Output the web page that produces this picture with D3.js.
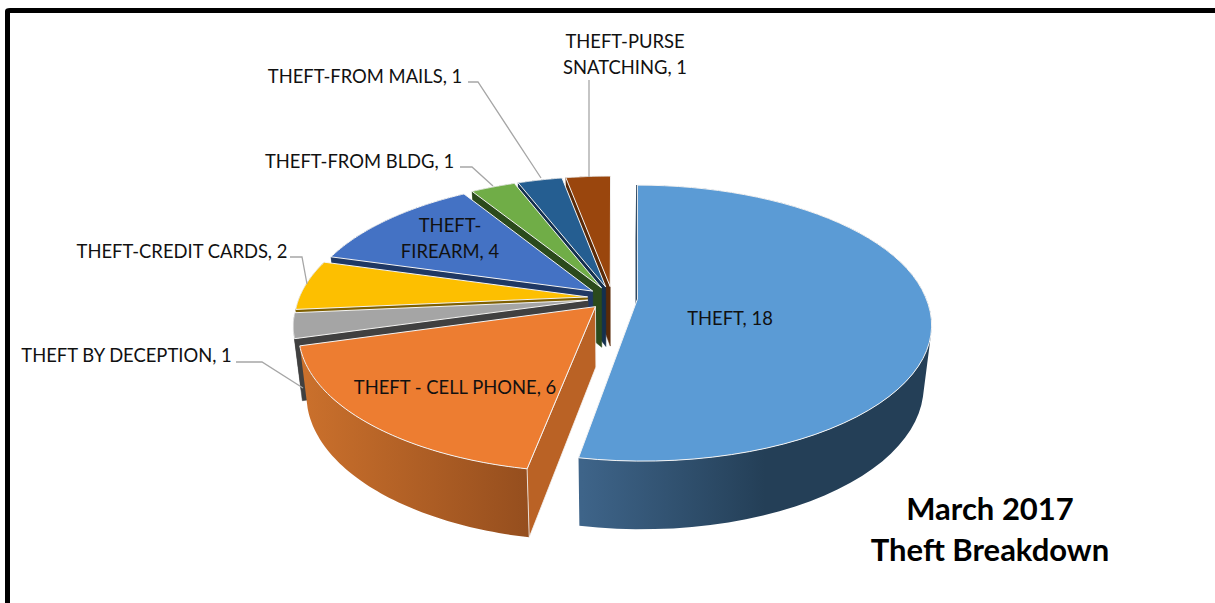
<!DOCTYPE html>
<html>
<head>
<meta charset="utf-8">
<script src="https://cdnjs.cloudflare.com/ajax/libs/d3/7.8.5/d3.min.js"></script>
<style>
  html, body { margin: 0; padding: 0; background: #fff; overflow: hidden; }
  text { font-family: Lato, "Open Sans", sans-serif; fill: #111; }
</style>
</head>
<body>
<svg id="chart" width="1215" height="603"></svg>
<script>
// chart data
var categories = ['THEFT', 'THEFT - CELL PHONE', 'THEFT BY DECEPTION', 'THEFT-CREDIT CARDS',
                  'THEFT-FIREARM', 'THEFT-FROM BLDG', 'THEFT-FROM MAILS', 'THEFT-PURSE SNATCHING'];
var values = [18, 6, 1, 2, 4, 1, 1, 1];
var topColors = ['#5b9bd5', '#ed7d31', '#a5a5a5', '#fdbf00', '#4472c4', '#70ad47', '#255e91', '#9a460d'];
var wallColors = ['#1f3a55', '#ba6225', '#404040', '#7f6000', '#1f3864', '#2b4a1c', '#14304f', '#5a2a08'];
var titleLines = ['March 2017', 'Theft Breakdown'];

// label placement, in the same order as categories
var labelLines = [['THEFT, 18'], ['THEFT - CELL PHONE, 6'], ['THEFT BY DECEPTION, 1'], ['THEFT-CREDIT CARDS, 2'],
                  ['THEFT-', 'FIREARM, 4'], ['THEFT-FROM BLDG, 1'], ['THEFT-FROM MAILS, 1'], ['THEFT-PURSE', 'SNATCHING, 1']];
var labelPos = [[730, 325], [455, 394], [126.5, 362], [182, 258], [450, 232], [359.5, 168], [365, 83], [625, 48]];
var leaders = [null, null,
  [[236, 362], [262, 362], [303, 388]],
  [[290, 257], [302, 257], [307, 284]],
  null,
  [[460, 167], [472, 167], [493, 186]],
  [[468, 82], [478, 82], [541, 178]],
  [[589, 80], [589, 177]]];

var width = 1215, height = 603;
var center = {x: 612.5, y: 298},
    explode = 25,
    radius = 288.5, squash = 0.4625, persp = 0.174,
    depth = 60, bottomX = 0.975, bottomY = 1.05,
    fontSize = 18.4;

var svg = d3.select('#chart');

var defs = svg.append('defs');
function sideGradient(id, x1, x2, from, to) {
  var g = defs.append('linearGradient').attr('id', id)
    .attr('gradientUnits', 'userSpaceOnUse')
    .attr('x1', x1).attr('x2', x2).attr('y1', 0).attr('y2', 0);
  g.append('stop').attr('offset', 0).attr('stop-color', from);
  g.append('stop').attr('offset', 1).attr('stop-color', to);
}
sideGradient('rim0', 582, 765, '#3e6489', '#243f57');
sideGradient('rim1', 305, 530, '#ca702c', '#954e1e');

// frame, only the top and left edges are in the picture
svg.append('path')
  .attr('d', 'M7.5,' + height + 'V11Q7.5,10.5 10,10.5H' + width)
  .attr('fill', 'none').attr('stroke', '#000').attr('stroke-width', 5);

// slice offset + rim offset on the ground plane (z goes away from the viewer) to screen
function project(ex, ez, rx, rz) {
  var gz = ez + rz;
  var s = 1 / (1 + persp * gz / radius);
  // a slice pulled to the right keeps its straight back edge
  var ek = ex > 0 ? Math.max(1, s) : s;
  return [center.x + ex * ek + rx * s, center.y - squash * gz * s];
}
function lower(p) {
  return [center.x + (p[0] - center.x) * bottomX,
          center.y + depth + (p[1] - center.y) * bottomY];
}

var slices = d3.pie().sort(null)(values);
slices.forEach(function(d, i) {
  var mid = (d.startAngle + d.endAngle) / 2;
  d.ex = explode * Math.sin(mid);
  d.ez = explode * Math.cos(mid);
  d.name = categories[i];
});

function tipPoint(d) { return project(d.ex, d.ez, 0, 0); }
function topPoint(d, a) {
  return project(d.ex, d.ez, radius * Math.sin(a), radius * Math.cos(a));
}
function arcAngles(d) {
  return d3.range(0, 61).map(function(k) {
    return d.startAngle + (d.endAngle - d.startAngle) * k / 60;
  });
}

var line = d3.line();

// back to front: last slices first, the big one on top
var order = d3.range(1, values.length).reverse().concat([0]);

order.forEach(function(i) {
  var d = slices[i];
  var g = svg.append('g').attr('class', 'slice');
  var angles = arcAngles(d);
  var wall = wallColors[i];
  var tip = tipPoint(d);

  // outer wall, swept in small quads inside one path so the silhouette is right.
  // all quads wound the same way or the overlaps cancel out
  var sweep = d3.pairs(angles).map(function(p) {
    var a = topPoint(d, p[0]), b = topPoint(d, p[1]);
    var quad = [a, b, lower(b), lower(a)];
    if (d3.polygonArea(quad) < 0) quad.reverse();
    return line(quad) + 'Z';
  }).join('');
  g.append('path')
    .attr('class', 'rim')
    .attr('d', sweep)
    .attr('fill', i < 2 ? 'url(#rim' + i + ')' : wall);

  // radial wall on the start side
  var corner = topPoint(d, d.startAngle);
  g.append('path')
    .attr('d', line([tip, corner, lower(corner), lower(tip)]) + 'Z')
    .attr('fill', wall)
    .attr('stroke', i === 1 ? '#f4f4f4' : wall)
    .attr('stroke-width', i === 0 ? 2.5 : (i === 1 ? 0.8 : 0.5));

  // top face
  var top = [tip].concat(angles.map(function(a) { return topPoint(d, a); }));
  g.append('path')
    .attr('d', line(top) + 'Z')
    .attr('fill', topColors[i])
    .attr('stroke', '#f4f4f4').attr('stroke-width', 1).attr('stroke-linejoin', 'round');
});

// leader lines
leaders.forEach(function(pts) {
  if (!pts) return;
  svg.append('path').attr('d', line(pts))
    .attr('fill', 'none').attr('stroke', '#a6a6a6').attr('stroke-width', 1.3);
});

// data labels
labelLines.forEach(function(lines, i) {
  lines.forEach(function(t, j) {
    svg.append('text')
      .attr('x', labelPos[i][0])
      .attr('y', labelPos[i][1] + j * 26)
      .attr('text-anchor', 'middle')
      .attr('font-size', fontSize)
      .text(t);
  });
});

// title block
titleLines.forEach(function(t, j) {
  svg.append('text')
    .attr('x', 990)
    .attr('y', 520 + j * 41)
    .attr('text-anchor', 'middle')
    .attr('font-size', 31)
    .attr('font-weight', 700)
    .style('fill', '#000')
    .text(t);
});
</script>
</body>
</html>
